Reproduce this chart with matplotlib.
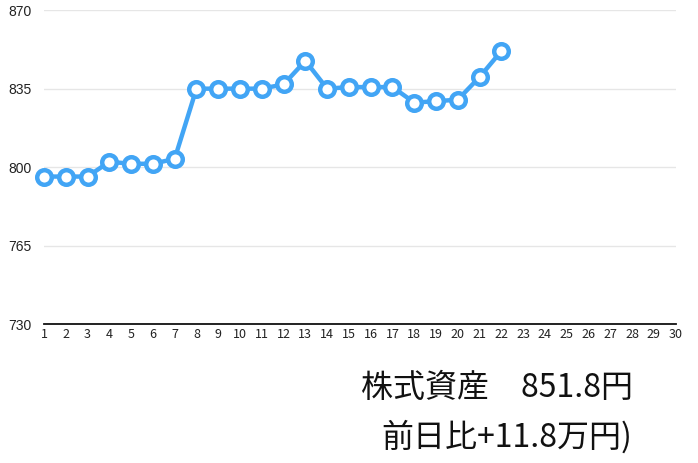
import matplotlib
matplotlib.use('Agg')
from matplotlib import pyplot as plt

plt.rcParams['font.family'] = ['Noto Sans CJK JP', 'DejaVu Sans']

days = list(range(1, 23))
values = [795.8, 795.8, 795.8, 802.4, 801.5, 801.5, 803.7, 835.0, 835.0, 835.0,
          835.0, 836.9, 847.4, 835.0, 835.7, 835.7, 835.7, 828.8, 829.4, 830.1,
          840.2, 851.8]
x_ticks = list(range(1, 31))
y_ticks = [730, 765, 800, 835, 870]
title1 = '株式資産　851.8円'
title2 = '前日比+11.8万円)'

fig = plt.figure(figsize=(6.98, 4.63), dpi=100)
ax = fig.add_axes([0.063, 0.300, 0.905, 0.678])

ax.plot(days, values, color='#42a5f5', lw=3.2, marker='o', ms=10.5,
        mfc='white', mec='#42a5f5', mew=3.2, zorder=3, clip_on=False)

ax.set_xlim(1, 30)
ax.set_ylim(730, 870)
ax.set_xticks(x_ticks)
ax.set_yticks(y_ticks)
ax.tick_params(axis='both', length=0, labelsize=9, colors='#222222')
ax.tick_params(axis='x', pad=3)
ax.tick_params(axis='y', pad=9)
for lab in ax.get_yticklabels():
    lab.set_fontfamily(['Liberation Sans', 'DejaVu Sans'])
    lab.set_fontsize(10)
ax.grid(axis='y', color='#e6e6e6', lw=1)
ax.set_axisbelow(True)
for s in ['top', 'right', 'left']:
    ax.spines[s].set_visible(False)
ax.spines['bottom'].set_color('#111111')
ax.spines['bottom'].set_linewidth(1.3)

fig.text(0.712, 1 - 388 / 463, title1, ha='center', va='center', fontsize=23, color='#111111')
fig.text(0.726, 1 - 437 / 463, title2, ha='center', va='center', fontsize=23, color='#111111')

plt.savefig('out.png')
